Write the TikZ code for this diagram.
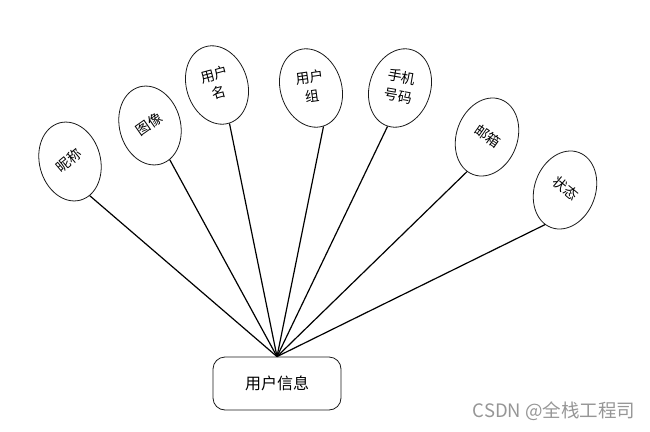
\documentclass[tikz,border=0pt]{standalone}
\usepackage{fontspec}
\usepackage{graphicx}
\newfontfamily\cjkfont{Noto Sans CJK SC}
\usetikzlibrary{shapes.geometric,positioning}
\definecolor{lineblack}{RGB}{25,25,25}
\definecolor{wmgray}{RGB}{150,150,150}

\begin{document}
\begin{tikzpicture}[x=1pt,y=-1pt,
  attr/.style={ellipse,draw=lineblack,line width=0.8pt,minimum width=61pt,minimum height=80pt,inner sep=0pt,
    font=\cjkfont\fontsize{14}{19}\selectfont},
  entity/.style={draw=lineblack,rounded corners=12pt,line width=0.8pt,minimum width=128pt,minimum height=53pt,font=\cjkfont\fontsize{16}{18}\selectfont},
  link/.style={draw=black,line width=1.2pt},
  wmark/.style={text=wmgray,font=\cjkfont\fontsize{18.5}{20}\selectfont,inner sep=0pt},
]
  \useasboundingbox (0,0) rectangle (650,431);
  \node[entity] (info) at (277,383.5) {用户信息};
  \foreach \n/\x/\y/\r/\t/\a/\txt in {
    e1/70/161.5/15/25/-75/昵称,
    e2/150/125.5/15/20/-75/图像,
    e3/217/85/18/-3/south/用户\\名,
    e4/311/88/18/-10/south/用户\\组,
    e5/400/88/-18/8/south/手机\\号码,
    e6/487/137/-20/-15/-100/邮箱,
    e7/565/190/-20/-20/-100/状态} {
    \node[attr,rotate=\r] (\n) at (\x,\y)
      {\rotatebox[origin=c]{\t}{\begin{tabular}{@{}c@{}}\txt\end{tabular}}};
    \draw[link] (info.north) -- (\n.\a);
  }
  \node[wmark] (csdn) at (554,411) {CSDN @全栈工程司};
\end{tikzpicture}
\end{document}
